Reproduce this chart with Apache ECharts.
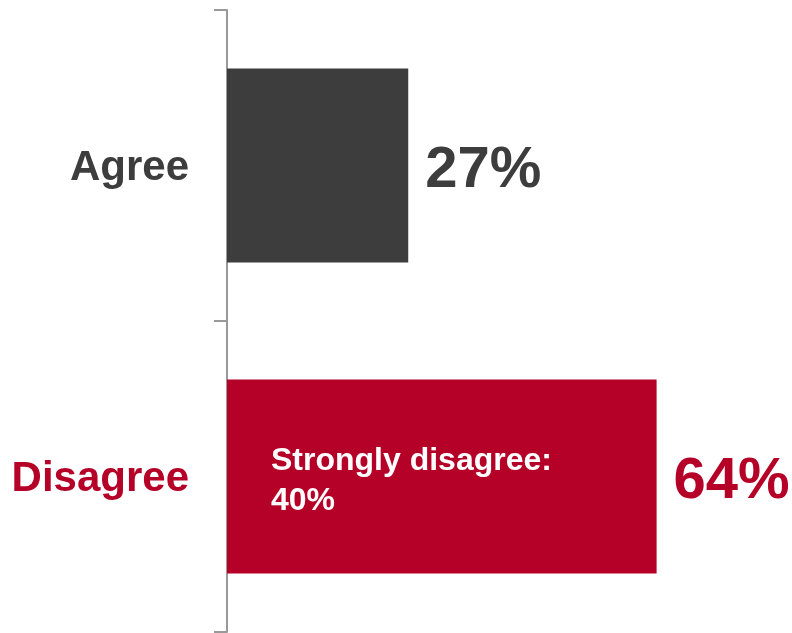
<!DOCTYPE html>
<html>
<head>
<meta charset="utf-8">
<script src="https://cdn.jsdelivr.net/npm/echarts@6/dist/echarts.min.js"></script>
<style>
  html, body { margin: 0; padding: 0; background: #ffffff; }
  #chart { width: 792px; height: 633px; }
</style>
</head>
<body>
<div id="chart"></div>
<script>
// Survey response shares (percent)
const categories = ['Agree', 'Disagree'];
const totals = [27, 64];
const strongLabels = ['', 'Strongly disagree:'];
const strongValues = [null, 40];

const DARK = '#3d3d3d';
const RED = '#b50027';
const FONT = '"Liberation Sans", Arial, sans-serif';
const colors = [DARK, RED];

const chart = echarts.init(document.getElementById('chart'), null, { renderer: 'canvas' });

chart.setOption({
  backgroundColor: '#ffffff',
  animation: false,
  grid: { left: 227, top: 10, width: 537, height: 622, containLabel: false },
  xAxis: {
    type: 'value',
    min: 0,
    max: 80,
    show: false
  },
  yAxis: {
    type: 'category',
    data: categories,
    inverse: true,
    axisLine: { show: true, lineStyle: { color: '#999999', width: 2 } },
    axisTick: { show: true, length: 13, lineStyle: { color: '#999999', width: 2 } },
    axisLabel: {
      margin: 38,
      fontFamily: FONT,
      fontWeight: 'bold',
      fontSize: 42,
      formatter: (v, i) => '{c' + i + '|' + v + '}',
      rich: {
        c0: { color: DARK, fontFamily: FONT, fontWeight: 'bold', fontSize: 42, padding: [6, 0, 0, 0] },
        c1: { color: RED, fontFamily: FONT, fontWeight: 'bold', fontSize: 42, padding: [6, 0, 0, 0] }
      }
    },
    splitLine: { show: false }
  },
  series: [
    {
      type: 'bar',
      barWidth: 194,
      data: totals.map((v, i) => ({ value: v, itemStyle: { color: colors[i] } })),
      label: {
        show: true,
        position: 'right',
        distance: 17,
        offset: [0, 5],
        fontFamily: FONT,
        fontWeight: 'bold',
        fontSize: 58,
        formatter: p => p.value + '%',
        color: 'inherit'
      },
      z: 2
    },
    {
      // strongly-disagree share, carried on an unfilled bar inside the total
      type: 'bar',
      barWidth: 194,
      barGap: '-100%',
      data: strongValues.map(v => ({ value: v, itemStyle: { color: 'rgba(0,0,0,0)' } })),
      label: {
        show: true,
        position: 'insideLeft',
        distance: 44,
        offset: [0, 5],
        fontFamily: FONT,
        fontWeight: 'bold',
        fontSize: 32,
        lineHeight: 40,
        color: '#ffffff',
        formatter: p => p.value == null ? '' : strongLabels[p.dataIndex] + '\n' + p.value + '%'
      },
      z: 3
    }
  ]
});
</script>
</body>
</html>
